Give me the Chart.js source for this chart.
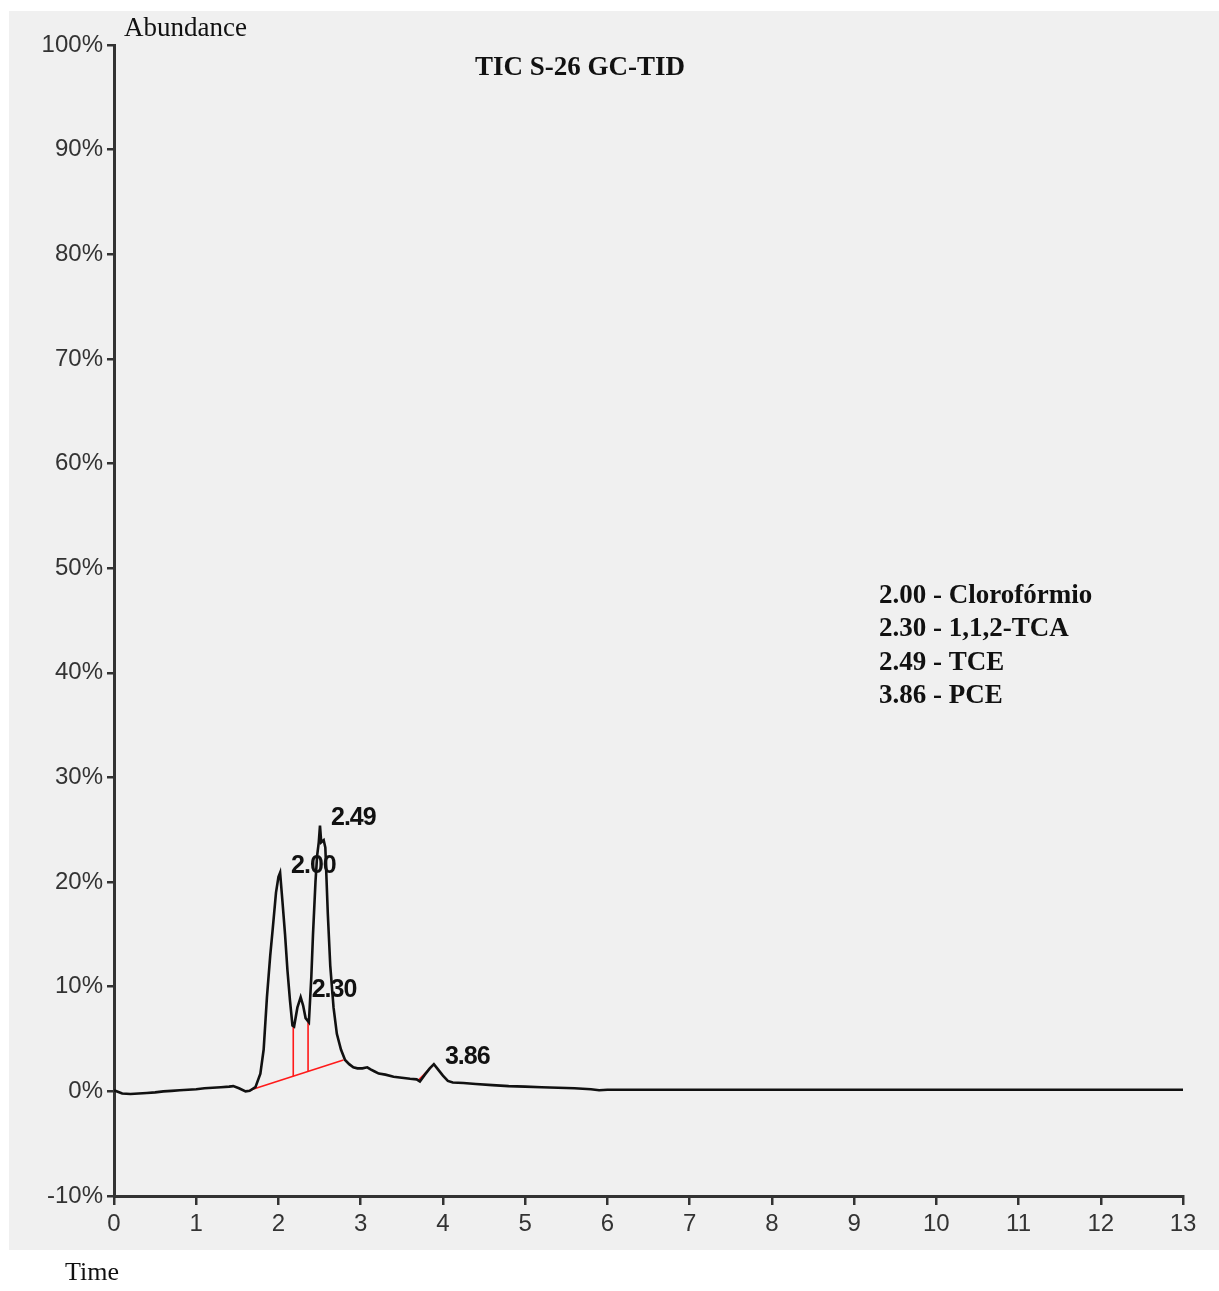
<!DOCTYPE html>
<html>
<head>
<meta charset="utf-8">
<script src="https://cdn.jsdelivr.net/npm/chart.js@4"></script>
<style>
  body { margin: 0; background: #fff; }
</style>
</head>
<body>
<canvas id="myChart" width="1219" height="1291"></canvas>
<script>
// TIC trace (time in min, abundance in %)
const timeValues = [0, 0.1, 0.2, 0.3, 0.4, 0.5, 0.6, 0.7, 0.8, 0.9, 1.0, 1.1, 1.2, 1.3, 1.4, 1.45, 1.52, 1.6, 1.65,
    1.72, 1.78, 1.82, 1.86, 1.9, 1.93, 1.97, 2.0, 2.02, 2.05, 2.08, 2.11, 2.14, 2.17, 2.19, 2.23, 2.27, 2.3, 2.33, 2.37,
    2.4, 2.42, 2.45, 2.47, 2.49, 2.505, 2.52, 2.55, 2.57, 2.6, 2.63, 2.67, 2.71, 2.76, 2.81, 2.86, 2.91, 2.96, 3.02,
    3.08, 3.12, 3.17, 3.22, 3.3, 3.4, 3.5, 3.6, 3.68, 3.72, 3.78, 3.84, 3.89, 3.94, 4.0, 4.06, 4.12, 4.25, 4.4, 4.6,
    4.8, 5.0, 5.2, 5.4, 5.6, 5.8, 5.9, 6.0, 13];
const abundanceValues = [0.1, -0.2, -0.25, -0.2, -0.15, -0.1, 0.0, 0.05, 0.1, 0.15, 0.2, 0.3, 0.35, 0.4, 0.45, 0.5, 0.3, 0.0, 0.05,
    0.4, 1.7, 4, 9, 13, 15.5, 19, 20.5, 20.9, 18, 15, 11.5, 8.7, 6.3, 6.2, 8, 9.0, 8.2, 7, 6.6,
    11, 15, 20, 22.5, 23.8, 25.4, 23.8, 24, 23.3, 17, 12, 8, 5.5, 4, 3.0, 2.6, 2.3, 2.2, 2.2,
    2.3, 2.1, 1.9, 1.7, 1.6, 1.4, 1.3, 1.2, 1.15, 0.95, 1.6, 2.2, 2.6, 2.1, 1.5, 1.0, 0.85, 0.8, 0.7, 0.6,
    0.5, 0.45, 0.4, 0.35, 0.3, 0.2, 0.1, 0.15, 0.15];

// integration baseline and drop lines (red)
const baselineTimes = [1.65, 2.79];
const baselineValues = [0.1, 3.0];
const dropTimes = [2.18, 2.36];
const dropTops = [6.2, 6.6];
const dropBottoms = [1.45, 1.9];
const pceBaseTimes = [3.7, 3.88];
const pceBaseValues = [1.05, 2.5];

// peak labels
const peakLabels = ['2.00', '2.30', '2.49', '3.86'];
const peakTimes = [2.02, 2.27, 2.505, 3.89];
const peakHeights = [20.9, 9.0, 25.4, 2.6];

const legendLines = ['2.00 - Clorofórmio', '2.30 - 1,1,2-TCA', '2.49 - TCE', '3.86 - PCE'];

const xTicks = [0, 13];
const yTicks = [-10, 100];

const toPoints = (xs, ys) => xs.map((x, i) => ({ x: x, y: ys[i] }));

const redLine = (data) => ({
    data: data,
    borderColor: '#ff1a1a',
    borderWidth: 1.6,
    pointRadius: 0,
    tension: 0
});

const datasets = [
    {
        label: 'TIC',
        data: toPoints(timeValues, abundanceValues),
        borderColor: '#111',
        borderWidth: 2.6,
        pointRadius: 0,
        tension: 0
    },
    redLine(toPoints(baselineTimes, baselineValues)),
    redLine(toPoints(pceBaseTimes, pceBaseValues))
];
dropTimes.forEach((t, i) => {
    datasets.push(redLine([{ x: t, y: dropTops[i] }, { x: t, y: dropBottoms[i] }]));
});

const decor = {
    id: 'decor',
    beforeDraw(chart) {
        const ctx = chart.ctx;
        ctx.save();
        ctx.fillStyle = '#fff';
        ctx.fillRect(0, 0, chart.width, chart.height);
        ctx.fillStyle = '#f0f0f0';
        ctx.fillRect(9, 11, chart.width - 9, 1239);
        ctx.restore();
    },
    afterDraw(chart) {
        const ctx = chart.ctx;
        const xs = chart.scales.x, ys = chart.scales.y;
        ctx.save();
        ctx.fillStyle = '#111';
        ctx.textBaseline = 'middle';
        // peak labels
        ctx.font = 'bold 25px "Liberation Sans", Arial, sans-serif';
        ctx.letterSpacing = '-1px';
        ctx.textAlign = 'left';
        peakLabels.forEach((lbl, i) => {
            ctx.fillText(lbl, xs.getPixelForValue(peakTimes[i]) + 11, ys.getPixelForValue(peakHeights[i]) - 7);
        });
        ctx.letterSpacing = '0px';
        // title
        ctx.font = 'bold 27px "Liberation Serif", "Times New Roman", serif';
        ctx.textAlign = 'center';
        ctx.fillText('TIC S-26 GC-TID', 580, 68);
        // legend text
        ctx.textAlign = 'left';
        legendLines.forEach((t, i) => ctx.fillText(t, 879, 596 + i * 33.5));
        // axis titles
        ctx.font = '27px "Liberation Serif", "Times New Roman", serif';
        ctx.fillText('Abundance', 124, 29);
        ctx.font = '26px "Liberation Serif", "Times New Roman", serif';
        ctx.fillText('Time', 65, 1273);
        ctx.restore();
    }
};

const ctx = document.getElementById('myChart');
const myChart = new Chart(ctx, {
    type: 'line',
    data: { datasets: datasets },
    options: {
        responsive: false,
        animation: false,
        layout: { padding: { left: 0, top: 45, right: 36, bottom: 35 } },
        plugins: { legend: { display: false }, tooltip: { enabled: false } },
        scales: {
            x: {
                type: 'linear',
                min: xTicks[0],
                max: xTicks[1],
                ticks: {
                    stepSize: 1,
                    color: '#333',
                    padding: 5,
                    maxRotation: 0,
                    font: { family: '"Liberation Sans", Arial, sans-serif', size: 24 }
                },
                grid: { drawOnChartArea: false, color: '#333', lineWidth: 2.5, tickLength: 9 },
                border: { color: '#333', width: 3 },
                afterFit(scale) { scale.height = 60; }
            },
            y: {
                min: yTicks[0],
                max: yTicks[1],
                ticks: {
                    stepSize: 10,
                    color: '#333',
                    padding: 4,
                    font: { family: '"Liberation Sans", Arial, sans-serif', size: 24 },
                    callback: v => v + '%'
                },
                grid: { drawOnChartArea: false, color: '#333', lineWidth: 2.5, tickLength: 7 },
                border: { color: '#333', width: 3 },
                afterFit(scale) { scale.width = 114; }
            }
        }
    },
    plugins: [decor]
});
</script>
</body>
</html>
